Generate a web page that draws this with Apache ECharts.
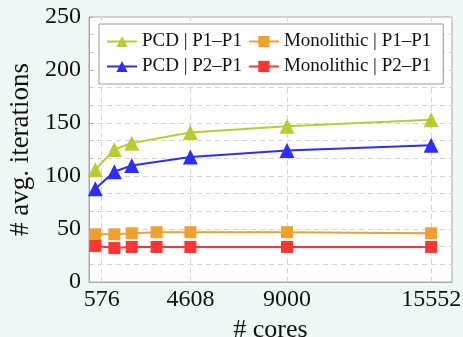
<!DOCTYPE html>
<html>
<head>
<meta charset="utf-8">
<script src="https://cdn.jsdelivr.net/npm/echarts@6/dist/echarts.min.js"></script>
<style>
  html, body { margin: 0; padding: 0; background: #eff8f7; }
  #main { width: 463px; height: 337px; }
</style>
</head>
<body>
<div id="main"></div>
<script>
var dom = document.getElementById('main');
var myChart = echarts.init(dom);

// cores (x values)
var coresPCD = [288, 1152, 1944, 4608, 9000, 15552];
var coresMono = [288, 1152, 1944, 3072, 4608, 9000, 15552];
var xTicks = [576, 4608, 9000, 15552];

// average iterations
var pcdP1P1 = [106, 125, 131, 141, 147, 153];
var pcdP2P1 = [88, 104, 110, 118, 124, 129];
var monoP1P1 = [45, 45, 46, 47, 47, 47, 46];
var monoP2P1 = [34, 32, 33, 33, 33, 33, 33];

function pairs(xs, ys) {
  return xs.map(function (x, i) { return [x, ys[i]]; });
}

var serif = 'Liberation Serif';
var gridCol = '#d4d4d4';

option = {
  backgroundColor: '#eff8f7',
  textStyle: { fontFamily: serif },
  animation: false,
  grid: {
    left: 89,
    right: 11,
    top: 17,
    bottom: 55,
    outerBoundsMode: 'none',
    containLabel: false,
    show: true,
    backgroundColor: '#fff',
    borderColor: '#aaa',
    borderWidth: 1
  },
  legend: {
    left: 99,
    top: 24,
    width: 330,
    orient: 'horizontal',
    padding: [8, 12, 8, 7],
    itemGap: 6,
    itemWidth: 30,
    itemHeight: 14,
    borderColor: '#999',
    borderWidth: 1,
    backgroundColor: '#fff',
    borderRadius: 0,
    textStyle: { fontFamily: serif, fontSize: 19, lineHeight: 14, color: '#111' },
    data: ['PCD | P1–P1', 'Monolithic | P1–P1', 'PCD | P2–P1', 'Monolithic | P2–P1']
  },
  xAxis: {
    type: 'value',
    min: 0,
    max: 16500,
    name: '# cores',
    nameLocation: 'middle',
    nameGap: 30,
    nameTextStyle: { fontFamily: serif, fontSize: 26, color: '#111' },
    axisLine: { show: true, lineStyle: { color: '#aaa' } },
    axisTick: { show: true, inside: true, length: 4, customValues: xTicks, lineStyle: { color: '#aaa' } },
    axisLabel: {
      customValues: xTicks,
      fontFamily: serif,
      fontSize: 24,
      color: '#111',
      margin: 6,
      formatter: function (v) { return String(v); }
    },
    splitLine: { show: false }
  },
  yAxis: {
    type: 'value',
    min: 0,
    max: 250,
    interval: 50,
    name: '# avg. iterations',
    nameLocation: 'middle',
    nameGap: 49,
    nameTextStyle: { fontFamily: serif, fontSize: 27, color: '#111' },
    axisLine: { show: true, lineStyle: { color: '#aaa' } },
    axisTick: { show: true, inside: true, length: 4, lineStyle: { color: '#aaa' } },
    minorTick: { show: true, splitNumber: 3, length: 2, lineStyle: { color: '#aaa' } },
    axisLabel: { fontFamily: serif, fontSize: 24, color: '#111', margin: 8 },
    splitLine: { show: true, lineStyle: { color: gridCol, type: [5, 4] } },
    minorSplitLine: { show: true, lineStyle: { color: gridCol, type: [5, 4] } }
  },
  series: [
    {
      name: 'PCD | P1–P1',
      type: 'line',
      data: pairs(coresPCD, pcdP1P1),
      symbol: 'triangle',
      symbolSize: 15,
      itemStyle: { color: '#b8cc30' },
      lineStyle: { color: '#b8cc30', width: 2 },
      markLine: {
        silent: true,
        symbol: 'none',
        label: { show: false },
        lineStyle: { color: gridCol, type: [5, 4], width: 1 },
        z: 1,
        data: xTicks.map(function (v) { return { xAxis: v }; })
      },
      z: 4
    },
    {
      name: 'PCD | P2–P1',
      type: 'line',
      data: pairs(coresPCD, pcdP2P1),
      symbol: 'triangle',
      symbolSize: 15,
      itemStyle: { color: '#2d2dff' },
      lineStyle: { color: '#2d2dff', width: 2 },
      z: 4
    },
    {
      name: 'Monolithic | P1–P1',
      type: 'line',
      data: pairs(coresMono, monoP1P1),
      symbol: 'rect',
      symbolSize: 12,
      itemStyle: { color: '#efa02f' },
      lineStyle: { color: '#efa02f', width: 2 },
      z: 3
    },
    {
      name: 'Monolithic | P2–P1',
      type: 'line',
      data: pairs(coresMono, monoP2P1),
      symbol: 'rect',
      symbolSize: 12,
      itemStyle: { color: '#ff3535' },
      lineStyle: { color: '#ff3535', width: 2 },
      z: 3
    }
  ]
};

if (option && typeof option === 'object') {
  myChart.setOption(option, true);
}
</script>
</body>
</html>
